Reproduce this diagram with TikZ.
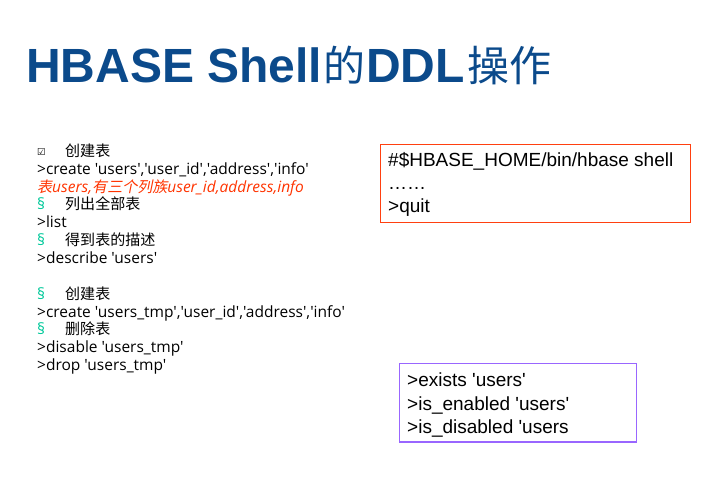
\documentclass[tikz,border=0pt]{standalone}
\usepackage{fontspec}
\setmainfont{Liberation Sans}[Ligatures=TeXOff]
\newfontfamily\latinfont{Open Sans}[Ligatures=TeXOff]
\newfontfamily\cjk{Noto Sans CJK SC}[Ligatures=TeXOff,Scale=0.97]
\newfontfamily\cjkit{Noto Sans CJK SC}[FakeSlant=0.2,Ligatures=TeXOff,Scale=0.97]
\newfontfamily\titlefont{Liberation Sans}[Ligatures=TeXOff]
\newfontfamily\titlecjk{Noto Sans CJK SC}
\newfontfamily\sym{DejaVu Sans}
\definecolor{titleblue}{HTML}{0B4A8B}
\definecolor{bulletteal}{HTML}{00C89A}
\definecolor{notered}{HTML}{FF3300}
\definecolor{boxred}{HTML}{FF4010}
\definecolor{boxpurple}{HTML}{9966FF}
\newcommand{\zh}[1]{{\cjk #1}}
\newcommand{\zhit}[1]{{\cjkit #1}}
\newcommand{\ttlzh}[1]{{\titlecjk\mdseries\fontsize{42}{42}\selectfont\raisebox{1.5pt}{#1}}}
\tikzset{
  lefttext/.style={anchor=base west, inner sep=0pt, font=\latinfont\fontsize{15.5}{15.5}\selectfont},
  boxtext/.style={anchor=base west, inner sep=0pt, font=\fontsize{19}{19}\selectfont},
  framebox/.style={draw, line width=1pt},
}
\begin{document}
\begin{tikzpicture}[x=1pt,y=-1pt]
\useasboundingbox (0,0) rectangle (702,486);
% title
\node[anchor=base west, inner sep=0pt, text=titleblue] (title) at (26,83)
  {\fontsize{48}{48}\selectfont\titlefont\bfseries HBASE Shell\hspace{1pt}\ttlzh{的}\hspace{1pt}DDL\hspace{3pt}\ttlzh{操作}};
% left text
\node[lefttext] (c1) at (37,156) {{\sym\bfseries\fontsize{9.5}{9.5}\selectfont ☑}};
\node[lefttext] (t1) at (65,157) {\zh{创建表}};
\node[lefttext] (l1) at (37,174.5) {>create 'users','user\_id','address','info'};
\node[lefttext, text=notered, font=\latinfont\itshape\fontsize{15.5}{15.5}\selectfont] (l2) at (37,193) {\zhit{表}users,\zhit{有三个列族}user\_id,address,info};
\node[lefttext, text=bulletteal] (b2) at (37,210) {§};
\node[lefttext] (t2) at (65,210) {\zh{列出全部表}};
\node[lefttext] (l3) at (37,228) {>list};
\node[lefttext, text=bulletteal] (b3) at (37,246) {§};
\node[lefttext] (t3) at (65,246) {\zh{得到表的描述}};
\node[lefttext] (l4) at (37,264) {>describe 'users'};
\node[lefttext, text=bulletteal] (b4) at (37,300) {§};
\node[lefttext] (t4) at (65,300) {\zh{创建表}};
\node[lefttext] (l5) at (37,318) {>create 'users\_tmp','user\_id','address','info'};
\node[lefttext, text=bulletteal] (b5) at (37,335) {§};
\node[lefttext] (t5) at (65,335) {\zh{删除表}};
\node[lefttext] (l6) at (37,353) {>disable 'users\_tmp'};
\node[lefttext] (l7) at (37,371) {>drop 'users\_tmp'};
% box 1
\draw[framebox, draw=boxred] (380,145) rectangle (690,223);
\node[boxtext] (s1) at (388,167) {\#\$HBASE\_HOME/bin/hbase shell};
\node[boxtext] (s2) at (388,190) {……};
\node[boxtext] (s3) at (388,213) {>quit};
% box 2
\draw[framebox, draw=boxpurple] (399,364) rectangle (636,442);
\node[boxtext] (e1) at (407,387) {>exists 'users'};
\node[boxtext] (e2) at (407,410) {>is\_enabled 'users'};
\node[boxtext] (e3) at (407,433) {>is\_disabled 'users};
\end{tikzpicture}
\end{document}
